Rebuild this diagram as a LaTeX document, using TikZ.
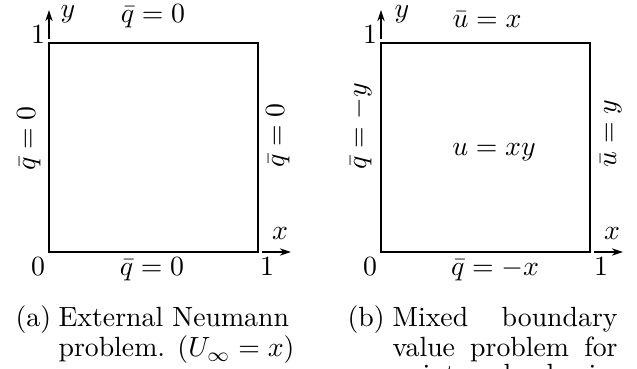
\documentclass[tikz,border=0pt]{standalone}
\usetikzlibrary{arrows.meta}
\begin{document}
\begin{tikzpicture}[x=0.36pt,y=-0.36pt,
  lbl/.style={inner sep=0pt, anchor=base},
  lblw/.style={inner sep=0pt, anchor=base west},
  rlbl/.style={inner sep=0pt, anchor=base west, rotate=90},
  axis/.style={line width=0.4pt,-{Stealth[length=4pt,width=2.6pt]}},
  sq/.style={draw, line width=0.4pt}]
\useasboundingbox (0,0) rectangle (637,369);
% ---------------- (a) ----------------
\draw[sq] (49,43) rectangle (258,252);
\coordinate (ay0) at (49,39); \coordinate (ay1) at (49,10);
\draw[axis] (ay0) -- (ay1);
\coordinate (ax0) at (262,252); \coordinate (ax1) at (291,252);
\draw[axis] (ax0) -- (ax1);
\node[lbl] (ay) at (68,18) {$y$};
\node[lbl] (ax) at (280,240) {$x$};
\node[lbl] (a1y) at (38,44) {$1$};
\node[lbl] (a0) at (38,276) {$0$};
\node[lbl] (a1x) at (267,276) {$1$};
\node[lbl] (atop) at (153,23) {$\bar q = 0$};
\node[lbl] (abot) at (152,276) {$\bar q = 0$};
\node[rlbl] (aleft) at (35,171) {$\bar q = 0$};
\node[rlbl] (aright) at (284,168) {$\bar q = 0$};
% ---------------- (b) ----------------
\draw[sq] (381,43) rectangle (590,252);
\coordinate (by0) at (381,39); \coordinate (by1) at (381,10);
\draw[axis] (by0) -- (by1);
\coordinate (bx0) at (594,252); \coordinate (bx1) at (623,252);
\draw[axis] (bx0) -- (bx1);
\node[lbl] (by) at (402,18) {$y$};
\node[lbl] (bx) at (612,240) {$x$};
\node[lbl] (b1y) at (370,44) {$1$};
\node[lbl] (b0) at (370,276) {$0$};
\node[lbl] (b1x) at (601,276) {$1$};
\node[lbl] (btop) at (487,28) {$\bar u = x$};
\node[lbl] (bbot) at (495,276) {$\bar q = -x$};
\node[lbl] (bmid) at (494,156) {$u = xy$};
\node[rlbl] (bleft) at (366,170) {$\bar q = -y$};
\node[rlbl] (bright) at (616,168) {$\bar u = y$};
% ---------------- captions ----------------
\node[lblw] (capa) at (15,327) {(a)};
\node[lblw] (capa1) at (58,327) {External Neumann};
\node[lblw] (capa2) at (58,357) {problem. ($U_\infty = x$)};
\node[lblw] (capb) at (347,327) {(b)};
\node[lblw] (capb1) at (392,327) {\hbox to 81pt{Mixed\hfill boundary}};
\node[lblw] (capb2) at (392,357) {\hbox to 81pt{value\hfill problem\hfill for}};
\begin{scope}
\clip (0,0) rectangle (637,369);
\node[lblw] (capb3a) at (392,383) {point};
\node[lblw] (capb3b) at (503,383) {load};
\node[lblw] (capb3c) at (588,383) {in};
\end{scope}
\end{tikzpicture}
\end{document}
